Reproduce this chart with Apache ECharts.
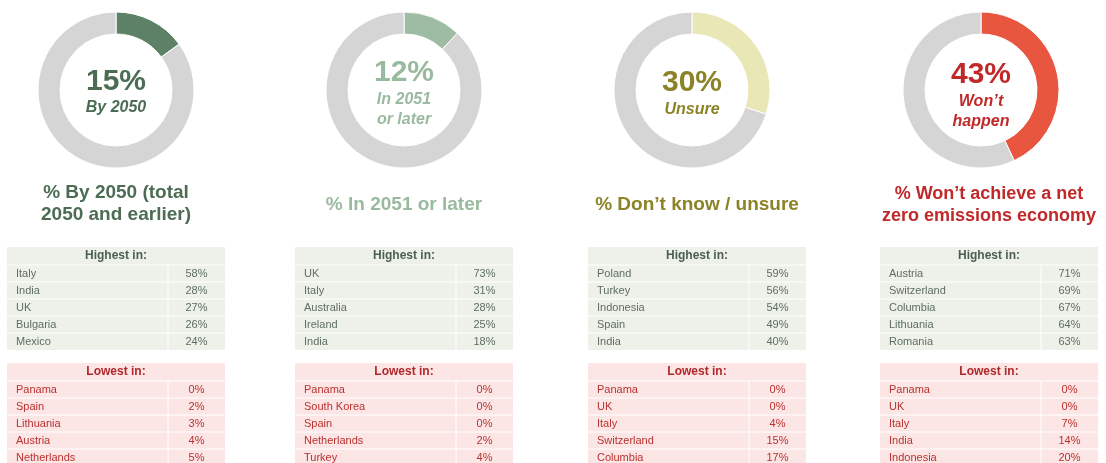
<!DOCTYPE html>
<html>
<head>
<meta charset="utf-8">
<script src="https://cdn.jsdelivr.net/npm/echarts@6/dist/echarts.min.js"></script>
<style>
  html, body { margin: 0; padding: 0; background: #fff; }
  #main { width: 1106px; height: 463px; }
</style>
</head>
<body>
<div id="main"></div>
<script>
// доли по каждому ответу
const shares = [15, 12, 30, 43];
const shareNames = ['By 2050', 'In 2051 or later', 'Unsure', "Won't happen"];
const centerLines = [['By 2050'], ['In 2051', 'or later'], ['Unsure'], ["Won\u2019t", 'happen']];
const titleLines = [
  ['% By 2050 (total', '2050 and earlier)'],
  ['% In 2051 or later'],
  ['% Don\u2019t know / unsure'],
  ['% Won\u2019t achieve a net', 'zero emissions economy']
];

const highestCountries = [
  ['Italy', 'India', 'UK', 'Bulgaria', 'Mexico'],
  ['UK', 'Italy', 'Australia', 'Ireland', 'India'],
  ['Poland', 'Turkey', 'Indonesia', 'Spain', 'India'],
  ['Austria', 'Switzerland', 'Columbia', 'Lithuania', 'Romania']
];
const highestValues = [
  [58, 28, 27, 26, 24],
  [73, 31, 28, 25, 18],
  [59, 56, 54, 49, 40],
  [71, 69, 67, 64, 63]
];
const lowestCountries = [
  ['Panama', 'Spain', 'Lithuania', 'Austria', 'Netherlands'],
  ['Panama', 'South Korea', 'Spain', 'Netherlands', 'Turkey'],
  ['Panama', 'UK', 'Italy', 'Switzerland', 'Columbia'],
  ['Panama', 'UK', 'Italy', 'India', 'Indonesia']
];
const lowestValues = [
  [0, 2, 3, 4, 5],
  [0, 0, 0, 2, 4],
  [0, 0, 4, 15, 17],
  [0, 0, 7, 14, 20]
];

// оформление
const sliceColors = ['#5c8166', '#9dbca3', '#e9e7b6', '#e8563f'];
const textColors = ['#4c6c53', '#9aba9f', '#8c8327', '#c0292a'];
const restColor = '#d5d5d5';
const donutX = [116, 404, 692, 981];
const donutY = 90;
const centerLineY = [[82, 108], [73, 100, 120], [83, 110], [75, 102, 122]];
const titleY = [[193, 215], [205], [205], [194, 216]];
const titleSize = [19, 19, 19, 18];
const tableX = [7, 295, 588, 880];
const tableW = 218;
const valueColW = 57;
const FONT = '"Liberation Sans", Arial, sans-serif';

const chartDom = document.getElementById('main');
const myChart = echarts.init(chartDom, null, { renderer: 'canvas' });

const series = shares.map((v, i) => ({
  type: 'pie',
  center: [donutX[i], donutY],
  radius: [56, 78],
  startAngle: 90,
  clockwise: true,
  silent: true,
  animation: false,
  label: { show: false },
  labelLine: { show: false },
  itemStyle: { borderColor: '#fff', borderWidth: 1 },
  data: [
    { value: v, name: shareNames[i], itemStyle: { color: sliceColors[i] } },
    { value: 100 - v, name: 'other', itemStyle: { color: restColor } }
  ]
}));

const graphics = [];

// подписи в центре и заголовки
shares.forEach((v, i) => {
  graphics.push({
    type: 'text', x: donutX[i], y: centerLineY[i][0],
    style: { text: v + '%', font: 'bold 30px ' + FONT, fill: textColors[i], align: 'center', verticalAlign: 'middle' }
  });
  centerLines[i].forEach((line, k) => {
    graphics.push({
      type: 'text', x: donutX[i], y: centerLineY[i][k + 1],
      style: { text: line, font: 'italic bold 16px ' + FONT, fill: textColors[i], align: 'center', verticalAlign: 'middle' }
    });
  });
  titleLines[i].forEach((line, k) => {
    graphics.push({
      type: 'text', x: tableX[i] + tableW / 2, y: titleY[i][k],
      style: { text: line, font: 'bold ' + titleSize[i] + 'px ' + FONT, fill: textColors[i], align: 'center', verticalAlign: 'middle' }
    });
  });
});

// таблицы
function addTable(x, top, header, names, values, bg, headColor, rowColor) {
  const headH = 18, rowH = 17;
  graphics.push({
    type: 'rect', shape: { x: x, y: top, width: tableW, height: headH + rowH * names.length },
    style: { fill: bg }
  });
  graphics.push({
    type: 'text', x: x + tableW / 2, y: top + headH / 2,
    style: { text: header, font: 'bold 12px ' + FONT, fill: headColor, align: 'center', verticalAlign: 'middle' }
  });
  names.forEach((name, r) => {
    const y0 = top + headH + rowH * r;
    graphics.push({
      type: 'line', shape: { x1: x, y1: y0, x2: x + tableW, y2: y0 },
      style: { stroke: '#fff', lineWidth: 1 }
    });
    graphics.push({
      type: 'text', x: x + 9, y: y0 + rowH / 2,
      style: { text: name, font: '11px ' + FONT, fill: rowColor, align: 'left', verticalAlign: 'middle' }
    });
    graphics.push({
      type: 'text', x: x + tableW - valueColW / 2, y: y0 + rowH / 2,
      style: { text: values[r] + '%', font: '11px ' + FONT, fill: rowColor, align: 'center', verticalAlign: 'middle' }
    });
  });
  graphics.push({
    type: 'line', shape: { x1: x + tableW - valueColW, y1: top + headH, x2: x + tableW - valueColW, y2: top + headH + rowH * names.length },
    style: { stroke: '#fff', lineWidth: 1 }
  });
}

shares.forEach((v, i) => {
  addTable(tableX[i], 247, 'Highest in:', highestCountries[i], highestValues[i], '#eef1ea', '#4b5f50', '#5e6e62');
  addTable(tableX[i], 363, 'Lowest in:', lowestCountries[i], lowestValues[i], '#fce5e5', '#b0282a', '#b93230');
});

myChart.setOption({
  animation: false,
  backgroundColor: '#fff',
  series: series,
  graphic: { elements: graphics }
});
</script>
</body>
</html>
